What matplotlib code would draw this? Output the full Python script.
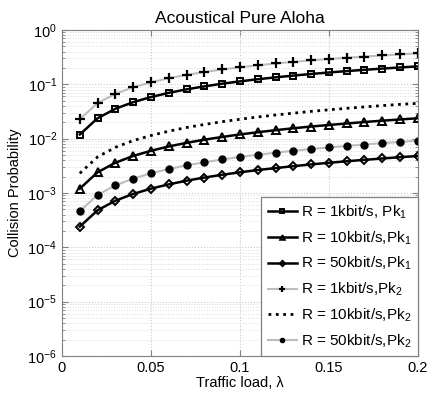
import matplotlib
matplotlib.use("Agg")
import matplotlib.pyplot as plt
from matplotlib.ticker import LogLocator, NullFormatter

load = [0.01, 0.02, 0.03, 0.04, 0.05, 0.06, 0.07, 0.08, 0.09, 0.10,
        0.11, 0.12, 0.13, 0.14, 0.15, 0.16, 0.17, 0.18, 0.19, 0.20]

r1_pk1 = [0.0119, 0.0237, 0.0354, 0.0468, 0.0582, 0.0695, 0.0806, 0.0915, 0.1024, 0.1131,
          0.1237, 0.1341, 0.1444, 0.1546, 0.1647, 0.1747, 0.1845, 0.1943, 0.2039, 0.2134]
r10_pk1 = [0.00120, 0.00240, 0.00360, 0.00479, 0.00598, 0.00717, 0.00836, 0.00955, 0.01073, 0.01193,
           0.0131, 0.0143, 0.0155, 0.0167, 0.0178, 0.0190, 0.0202, 0.0214, 0.0225, 0.0237]
r50_pk1 = [0.00024, 0.00048, 0.00072, 0.00096, 0.00120, 0.00144, 0.00168, 0.00192, 0.00216, 0.00240,
           0.00264, 0.00287, 0.00311, 0.00335, 0.00359, 0.00383, 0.00407, 0.00431, 0.00455, 0.00479]
r1_pk2 = [0.0227, 0.0450, 0.0667, 0.0879, 0.1086, 0.1289, 0.1487, 0.1681, 0.1870, 0.2055,
          0.2235, 0.2412, 0.2584, 0.2753, 0.2918, 0.3079, 0.3236, 0.3390, 0.3540, 0.3687]
r10_pk2 = [0.0023, 0.0046, 0.0069, 0.0092, 0.0114, 0.0137, 0.0160, 0.0182, 0.0205, 0.0227,
           0.0250, 0.0272, 0.0294, 0.0317, 0.0339, 0.0361, 0.0383, 0.0405, 0.0427, 0.0445]
r50_pk2 = [0.00046, 0.00092, 0.00138, 0.00184, 0.00230, 0.00276, 0.00322, 0.00367, 0.00413, 0.00459,
           0.00505, 0.00551, 0.00596, 0.00642, 0.00688, 0.00733, 0.00779, 0.00824, 0.00870, 0.00916]

labels = ["R = 1kbit/s, Pk$_1$", "R = 10kbit/s,Pk$_1$", "R = 50kbit/s,Pk$_1$",
          "R = 1kbit/s,Pk$_2$", "R = 10kbit/s,Pk$_2$", "R = 50kbit/s,Pk$_2$"]
xticks = [0, 0.05, 0.1, 0.15, 0.2]
xticklabels = ["0", "0.05", "0.1", "0.15", "0.2"]

plt.rcParams['font.family'] = ['Liberation Sans', 'DejaVu Sans']
plt.rcParams['mathtext.fontset'] = 'custom'
plt.rcParams['mathtext.rm'] = 'Liberation Sans'
plt.rcParams['mathtext.it'] = 'Liberation Sans'

fig = plt.figure(figsize=(4.29, 3.99), dpi=100)
ax = fig.add_axes([0.1445, 0.1078, 0.8295, 0.8172])

ax.plot(load, r1_pk1, '-s', color='black', lw=1.8, ms=5, mfc='none', mew=1.4, label=labels[0])
ax.plot(load, r10_pk1, '-^', color='black', lw=1.8, ms=5.5, mfc='none', mew=1.4, label=labels[1])
ax.plot(load, r50_pk1, '-D', color='black', lw=1.8, ms=4.5, mfc='none', mew=1.4, label=labels[2])
ax.plot(load, r1_pk2, '-', color='#bdbdbd', lw=1.5, marker='+', mec='black', ms=7, mew=1.6, label=labels[3])
ax.plot(load, r10_pk2, ':', color='black', lw=2.0, label=labels[4])
ax.plot(load, r50_pk2, '-', color='#bdbdbd', lw=1.5, marker='o', mec='black', mfc='black', ms=5, label=labels[5])

ax.set_yscale('log')
ax.set_xlim(0, 0.2)
ax.set_ylim(1e-6, 1)
ax.set_xticks(xticks)
ax.set_xticklabels(xticklabels)
ax.yaxis.set_major_locator(LogLocator(base=10, numticks=10))
ax.yaxis.set_minor_locator(LogLocator(base=10, subs=range(2, 10), numticks=100))
ax.yaxis.set_minor_formatter(NullFormatter())

ax.grid(True, which='major', color='#c8c8c8', linestyle=':', lw=0.8)
ax.grid(True, which='minor', axis='y', color='#dcdcdc', linestyle=':', lw=0.7)
ax.tick_params(which='both', direction='in', top=True, right=True, colors='#808080', labelcolor='black', labelsize=10.5)
ax.tick_params(which='major', length=4)
ax.tick_params(which='minor', length=2)
for s in ax.spines.values():
    s.set_color('#808080')

ax.set_title("Acoustical Pure Aloha", fontsize=12.5, pad=5)
ax.set_xlabel("Traffic load, λ", fontsize=10.5, labelpad=1)
ax.set_ylabel("Collision Probability", fontsize=10.5, labelpad=4)

leg = ax.legend(loc='lower right', fontsize=11, handlelength=1.9, markerscale=0.6,
                fancybox=False, framealpha=1, edgecolor='#808080', borderaxespad=0,
                labelspacing=0.55, handletextpad=0.3, borderpad=0.4)
leg.get_frame().set_linewidth(0.9)

fig.savefig("out.png", dpi=100)
